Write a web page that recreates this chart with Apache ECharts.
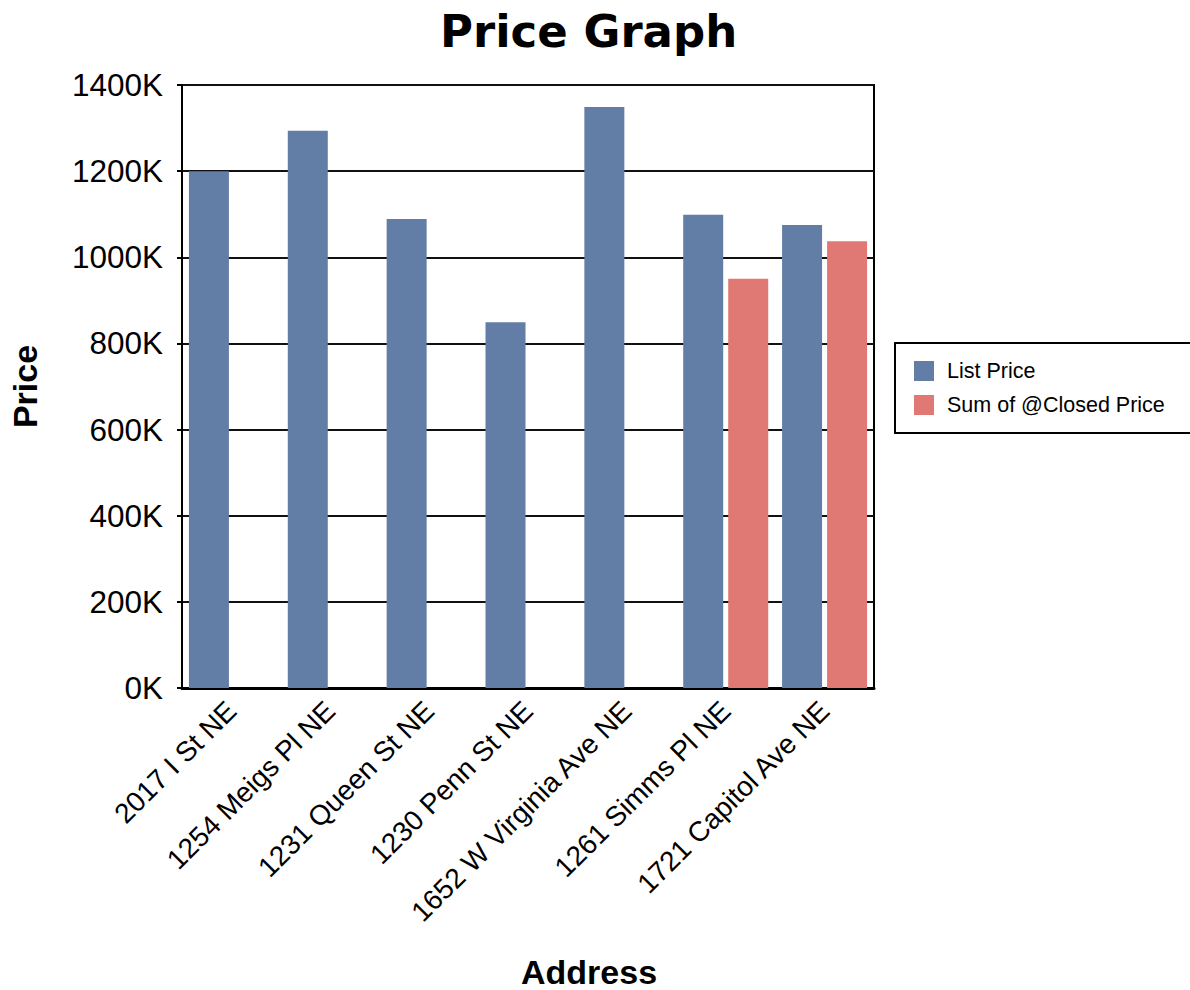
<!DOCTYPE html>
<html>
<head>
<meta charset="utf-8">
<script src="https://cdn.jsdelivr.net/npm/echarts@6/dist/echarts.min.js"></script>
<style>
html,body{margin:0;padding:0;background:#fff;}
#chart{width:1190px;height:990px;}
</style>
</head>
<body>
<div id="chart"></div>
<script>
const categories = ["2017 I St NE","1254 Meigs Pl NE","1231 Queen St NE","1230 Penn St NE","1652 W Virginia Ave NE","1261 Simms Pl NE","1721 Capitol Ave NE"];
const listPrice = [1200000,1294000,1089000,849000,1349000,1099000,1075000];
const closedPrice = [null,null,null,null,null,950000,1037000];
const seriesNames = ["List Price","Sum of @Closed Price"];
const titleText = "Price Graph";
const xAxisTitle = "Address";
const yAxisTitle = "Price";

const chart = echarts.init(document.getElementById('chart'), null, {renderer:'svg'});
const sans = "'Liberation Sans', Arial, sans-serif";
chart.setOption({
  animation:false,
  backgroundColor:'#fff',
  title:[
    {text:titleText,left:435,top:4,textStyle:{fontFamily:"'DejaVu Sans', Verdana, sans-serif",fontWeight:'bold',fontSize:45,color:'#000'}},
    {text:xAxisTitle,left:516,top:950,textStyle:{fontFamily:sans,fontWeight:'bold',fontSize:34,color:'#000'}}
  ],
  legend:{
    orient:'vertical',left:895,top:343,
    padding:[17,60,17,19],
    borderColor:'#000',borderWidth:2,
    itemWidth:20,itemHeight:20,itemGap:12,
    icon:'rect',
    textStyle:{fontFamily:sans,fontSize:21.5,color:'#000',padding:[0,0,0,8]},
    data:seriesNames
  },
  grid:{left:175,right:316,top:85,bottom:302,show:true,borderColor:'#000',borderWidth:2,containLabel:false},
  xAxis:{
    type:'category',data:categories,
    axisLine:{show:true,lineStyle:{color:'#000',width:3}},
    axisTick:{show:false},
    axisLabel:{interval:0,rotate:45,fontFamily:sans,fontSize:28,color:'#000',margin:18,padding:[14,0,0,0]},
    splitLine:{show:false}
  },
  yAxis:{
    type:'value',min:0,max:1400000,interval:200000,
    name:yAxisTitle,nameLocation:'middle',nameGap:140,
    nameTextStyle:{fontFamily:sans,fontWeight:'bold',fontSize:34,color:'#000'},
    axisLine:{show:true,lineStyle:{color:'#000',width:2}},
    axisTick:{show:true,length:5,lineStyle:{color:'#000',width:2}},
    axisLabel:{fontFamily:sans,fontSize:31.5,color:'#000',margin:19,formatter:v=>(v/1000)+'K'},
    splitLine:{show:true,lineStyle:{color:'#111',width:2}}
  },
  series:[
    {name:seriesNames[0],type:'bar',data:listPrice,barWidth:40,barGap:'12.5%',itemStyle:{color:'#637EA6'}},
    {name:seriesNames[1],type:'bar',data:closedPrice,barWidth:40,barGap:'12.5%',itemStyle:{color:'#E07874'}}
  ]
});
</script>
</body>
</html>
